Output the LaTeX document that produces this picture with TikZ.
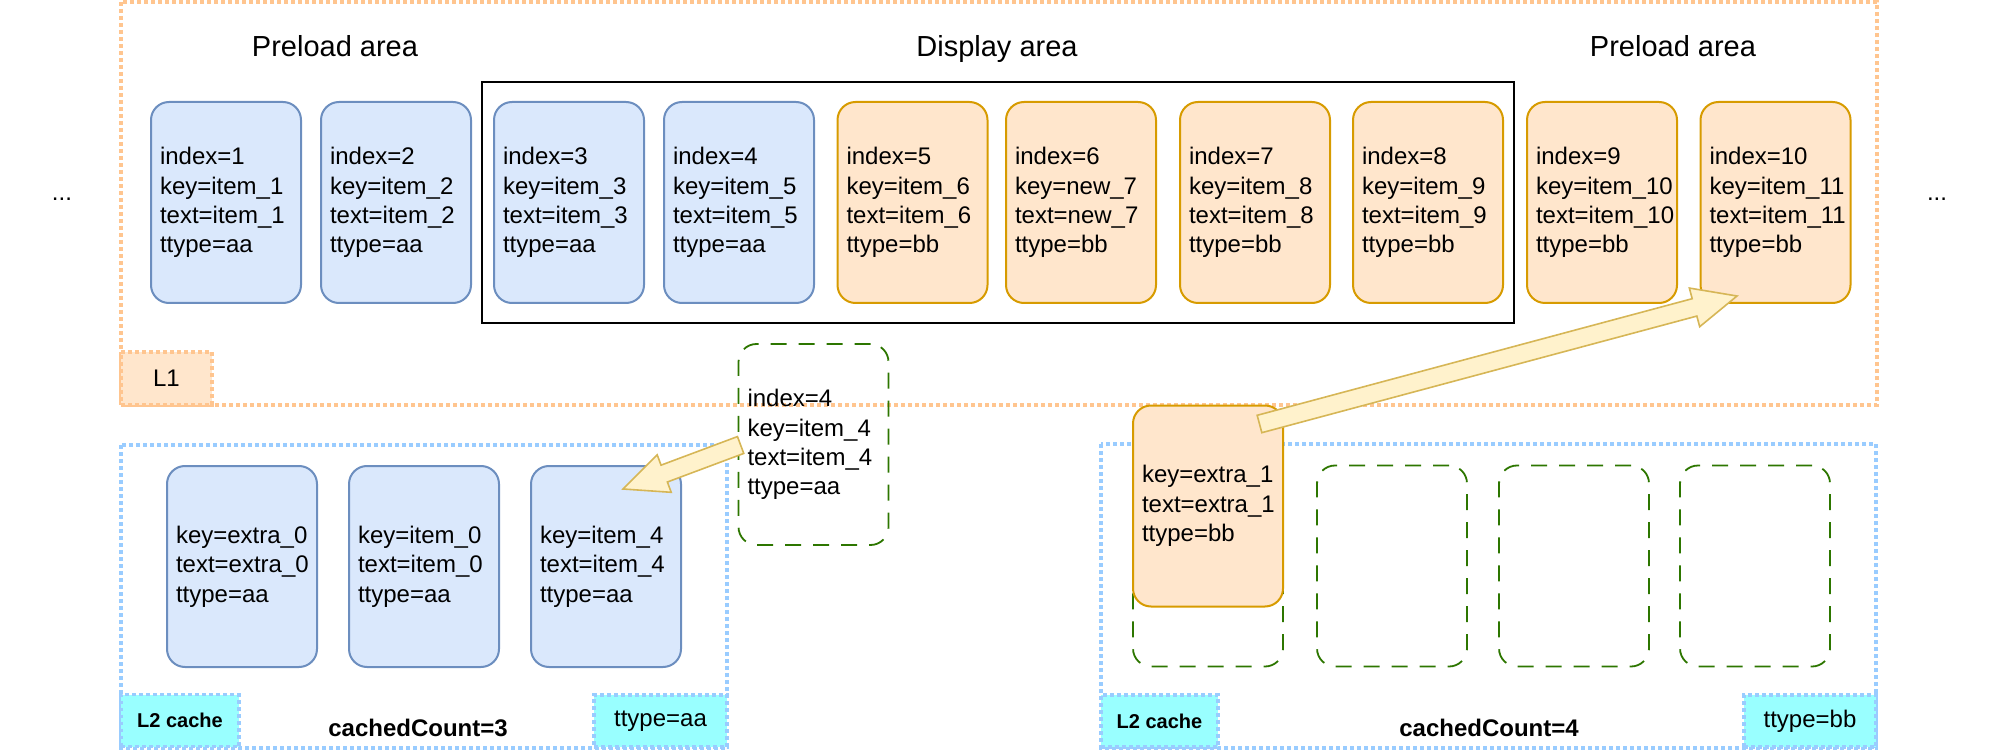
\documentclass[tikz,border=0pt]{standalone}
\usepackage{fontspec}
\setmainfont{Liberation Sans}
\usetikzlibrary{calc}
\definecolor{bluefill}{HTML}{DAE8FC}
\definecolor{bluestroke}{HTML}{6C8EBF}
\definecolor{orfill}{HTML}{FFE6CC}
\definecolor{orstroke}{HTML}{D79B00}
\definecolor{lonedot}{HTML}{FFC58F}
\definecolor{ltwodot}{HTML}{99CCFF}
\definecolor{cyanfill}{HTML}{99FFFF}
\definecolor{dashgreen}{HTML}{2D7600}
\definecolor{arrfill}{HTML}{FFF2CC}
\definecolor{arrstroke}{HTML}{D6B656}
\newcommand{\flexarr}[3]{%
  \coordinate (#3-neck) at ($(#2)!22pt!(#1)$);
  \draw[arrstroke, line width=0.8pt, fill=arrfill, line join=miter]
    ($(#1)!4.5pt!90:(#2)$) -- ($(#3-neck)!4.5pt!-90:(#1)$) -- ($(#3-neck)!10pt!-90:(#1)$)
    -- (#2) -- ($(#3-neck)!10pt!90:(#1)$) -- ($(#3-neck)!4.5pt!90:(#1)$)
    -- ($(#1)!4.5pt!-90:(#2)$) -- cycle;
}
\tikzset{
  card/.style={rectangle, rounded corners=9pt, minimum width=75pt, minimum height=100.5pt,
    inner xsep=4.5pt, inner ysep=0pt, text width=66pt, align=left,
    font=\fontsize{12pt}{14.7pt}\selectfont, line width=1pt},
  bluecard/.style={card, draw=bluestroke, fill=bluefill},
  orcard/.style={card, draw=orstroke, fill=orfill},
  ghostcard/.style={card, draw=dashgreen, line width=0.9pt, dash pattern=on 8pt off 6pt},
  lonebox/.style={draw=lonedot, line width=1.8pt, dash pattern=on 1.8pt off 1.7pt},
  ltwobox/.style={draw=ltwodot, line width=1.8pt, dash pattern=on 1.8pt off 1.7pt},
  heading/.style={font=\fontsize{14.5pt}{17pt}\selectfont, anchor=base, inner sep=0pt},
  plain/.style={font=\fontsize{12pt}{14.7pt}\selectfont, inner sep=0pt},
  boldlabel/.style={font=\fontsize{12pt}{14.7pt}\selectfont\bfseries, anchor=base, inner sep=0pt},
  l1tag/.style={lonebox, fill=orfill, minimum width=45.5pt, minimum height=26.5pt, inner sep=0pt,
    font=\fontsize{12pt}{14.7pt}\selectfont},
  ltwotag/.style={ltwobox, fill=cyanfill, minimum height=26pt, inner sep=0pt},
}
\begin{document}
\begin{tikzpicture}[x=0.5pt, y=-0.5pt]
\useasboundingbox (0,0) rectangle (2001,753);

% containers
\draw[lonebox] (121,2) rectangle (1877,405);
\draw[ltwobox] (121,445) rectangle (727,748);
\draw[ltwobox] (1101,444) rectangle (1876,748);
\draw[black, line width=1pt] (482,82) rectangle (1514,323);

% headings
\node[heading] (hpl) at (335,57) {Preload area};
\node[heading] (hdisp) at (997,57) {Display area};
\node[heading] (hpr) at (1673,57) {Preload area};
\node[plain, anchor=base] (dotsl) at (62,201) {...};
\node[plain, anchor=base] (dotsr) at (1937,201) {...};

% top row
\node[bluecard] (t1) at (226,202.5) {index=1\\key=item\_1\\text=item\_1\\ttype=aa};
\node[bluecard] (t2) at (396,202.5) {index=2\\key=item\_2\\text=item\_2\\ttype=aa};
\node[bluecard] (t3) at (569,202.5) {index=3\\key=item\_3\\text=item\_3\\ttype=aa};
\node[bluecard] (t4) at (739,202.5) {index=4\\key=item\_5\\text=item\_5\\ttype=aa};
\node[orcard] (t5) at (912.5,202.5) {index=5\\key=item\_6\\text=item\_6\\ttype=bb};
\node[orcard] (t6) at (1081,202.5) {index=6\\key=new\_7\\text=new\_7\\ttype=bb};
\node[orcard] (t7) at (1255,202.5) {index=7\\key=item\_8\\text=item\_8\\ttype=bb};
\node[orcard] (t8) at (1428,202.5) {index=8\\key=item\_9\\text=item\_9\\ttype=bb};
\node[orcard] (t9) at (1602,202.5) {index=9\\key=item\_10\\text=item\_10\\ttype=bb};
\node[orcard] (t10) at (1775.5,202.5) {index=10\\key=item\_11\\text=item\_11\\ttype=bb};

% L2 cache left
\node[bluecard] (c1) at (242,566.5) {key=extra\_0\\text=extra\_0\\ttype=aa};
\node[bluecard] (c2) at (424,566.5) {key=item\_0\\text=item\_0\\ttype=aa};
\node[bluecard] (c3) at (606,566.5) {key=item\_4\\text=item\_4\\ttype=aa};

% floating recycled card
\node[ghostcard] (ghost) at (813.5,444.5) {index=4\\key=item\_4\\text=item\_4\\ttype=aa};

% L2 cache right
\node[ghostcard] (g1) at (1208,566) {};
\node[ghostcard] (g2) at (1392,566) {};
\node[ghostcard] (g3) at (1574,566) {};
\node[ghostcard] (g4) at (1755,566) {};
\node[orcard] (ex1) at (1208,506) {key=extra\_1\\text=extra\_1\\ttype=bb};

% arrows
\coordinate (a1s) at ($(ghost.west)+(3,0.5)$);
\coordinate (a1e) at (623,489);
\flexarr{a1s}{a1e}{aone}
\coordinate (a2s) at (1259.5,424);
\coordinate (a2e) at (1737,296);
\flexarr{a2s}{a2e}{atwo}

% tags
\node[l1tag] (l1) at (166.5,378.5) {L1};
\node[ltwotag, minimum width=59pt, font=\fontsize{10pt}{12pt}\selectfont\bfseries] (l2a) at (180,720.5) {L2 cache};
\node[ltwotag, minimum width=66.5pt, font=\fontsize{12pt}{14.7pt}\selectfont] (tya) at (660.5,721) {ttype=aa};
\node[boldlabel] (cca) at (418,736) {cachedCount=3};
\node[ltwotag, minimum width=58.5pt, font=\fontsize{10pt}{12pt}\selectfont\bfseries] (l2b) at (1159.5,721) {L2 cache};
\node[ltwotag, minimum width=66pt, font=\fontsize{12pt}{14.7pt}\selectfont] (tyb) at (1810,721) {ttype=bb};
\node[boldlabel] (ccb) at (1489,736) {cachedCount=4};
\end{tikzpicture}
\end{document}
